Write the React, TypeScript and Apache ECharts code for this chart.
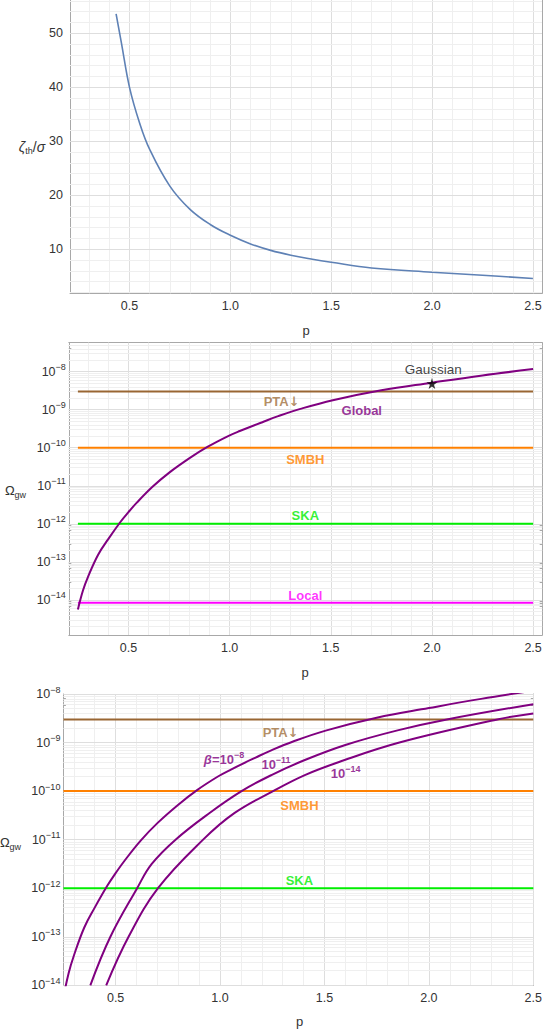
import { useEffect, useRef } from 'react';
import * as echarts from 'echarts';

// ---------------- Data: panel 1 (threshold) ----------------
const zetaP = [0.4335, 0.46, 0.5, 0.55, 0.6, 0.7, 0.8, 0.9, 1.0, 1.1, 1.2, 1.3, 1.4, 1.5, 1.7, 2.0, 2.25, 2.5];
const zetaVal = [53.6, 48.2, 40.0, 33.4, 28.5, 21.7, 17.4, 14.6, 12.6, 11.0, 9.8, 8.9, 8.2, 7.6, 6.55, 5.76, 5.2, 4.6];

// ---------------- Data: panel 2 (Global, beta = 1e-8) ----------------
const globalP = [0.25, 0.275, 0.3, 0.35, 0.4, 0.46, 0.5, 0.54, 0.62, 0.7, 0.8, 0.89, 0.99, 1.05, 1.17, 1.24, 1.35, 1.51, 1.75, 2.0, 2.25, 2.5];
const globalOmega = [5.62e-15, 1.78e-14, 4.07e-14, 1.55e-13, 3.98e-13, 1.12e-12, 2.04e-12, 3.55e-12, 9.55e-12, 2.19e-11, 5.25e-11, 1.05e-10, 2.0e-10, 2.75e-10, 4.9e-10, 6.76e-10, 1.05e-9, 1.78e-9, 3.24e-9, 5.13e-9, 7.94e-9, 1.17e-8];

// ---------------- Data: panel 3 (other beta) ----------------
const beta11P = [0.379, 0.475, 0.603, 0.673, 0.787, 0.95, 1.103, 1.246, 1.406, 1.6, 1.85, 2.092, 2.5];
const beta11Omega = [1e-14, 1e-13, 1e-12, 3.16e-12, 1e-11, 3.55e-11, 1e-10, 2.14e-10, 4.37e-10, 8.91e-10, 1.78e-9, 3.02e-9, 6.17e-9];
const beta14P = [0.455, 0.562, 0.703, 0.919, 1.07, 1.254, 1.406, 1.57, 1.859, 2.333, 2.5];
const beta14Omega = [1e-14, 1e-13, 1e-12, 1e-11, 3.55e-11, 1e-10, 2.14e-10, 3.98e-10, 1e-9, 3.02e-9, 3.98e-9];

// Detection levels
const pSpan = [0.25, 2.5];
const ptaLevel = 3e-9;
const smbhLevel = 1e-10;
const skaLevel = 1e-12;
const localLevel = 8.5e-15;

// Gaussian point
const gaussianP = 2.0;
const gaussianOmega = 4.9e-9;

// Annotations panel 2
const midLabelText = ['{n|PTA}{ar|↓}', '{n|Global}', 'Gaussian', '{n|SMBH}', '{n|SKA}', '{n|Local}'];
const midLabelP = [1.257, 1.653, 2.006, 1.374, 1.374, 1.374];
const midLabelOmega = [1.62e-9, 9.55e-10, 1.11e-8, 4.79e-11, 1.62e-12, 1.35e-14];

// Annotations panel 3
const botLabelText = ['{n|PTA}{ar|↓}', '{bi|β}{n|=10}{sp|−8}', '{n|10}{sp|−11}', '{n|10}{sp|−14}', '{n|SMBH}', '{n|SKA}'];
const botLabelP = [1.29, 1.019, 1.268, 1.601, 1.38, 1.38];
const botLabelOmega = [1.58e-9, 4.57e-10, 3.55e-10, 2.29e-10, 5.01e-11, 1.41e-12];

// Ticks
const xMajor = [0.5, 1.0, 1.5, 2.0, 2.5];
const zetaMajor = [10, 20, 30, 40, 50];
const logMajorMid = [-14, -13, -12, -11, -10, -9, -8];

// ---------------- Styling ----------------
const FONT = '"Liberation Sans", Arial, sans-serif';
const FRAME = '#a8a8a8';
const GRID_MAJOR = '#dedede';
const GRID_MINOR = '#efefef';
const TXT = '#333333';
const PURPLE = '#800080';
const BROWN = '#996633';
const ORANGE = '#ff8000';
const GREEN = '#00ee00';
const MAGENTA = '#ff00ff';

function steps(a: number, b: number, s: number): number[] {
  const out: number[] = [];
  for (let i = 0; a + i * s <= b + 1e-9; i++) out.push(+(a + i * s).toFixed(6));
  return out;
}
function notIn(arr: number[], ex: number[]) {
  return arr.filter((v) => !ex.some((e) => Math.abs(e - v) < 1e-6));
}
function logMinors(min: number, max: number) {
  const out: number[] = [];
  for (let n = -16; n <= -7; n++) {
    for (let k = 2; k <= 9; k++) {
      const v = n + Math.log10(k);
      if (v > min && v < max) out.push(v);
    }
  }
  return out;
}
const lg = (a: number[]) => a.map((v) => Math.log10(v));
const pairs = (xs: number[], ys: number[]) => xs.map((x, i) => [x, ys[i]]);

const supRich = {
  bb: { fontSize: 12.5, lineHeight: 18, fontFamily: FONT, color: TXT },
  sp: { fontSize: 9, lineHeight: 9, fontFamily: FONT, color: TXT, verticalAlign: 'top' },
};

function axes(dim: 'x' | 'y', gridIndex: number, min: number, max: number, majors: number[], minors: number[], label: any, showOpp: boolean) {
  const posA = dim === 'x' ? 'bottom' : 'left';
  const posB = dim === 'x' ? 'top' : 'right';
  const mk = (position: string, showLine: boolean, ticks: number[], len: number, lab: any, show = true) => ({
    type: 'value',
    gridIndex,
    min,
    max,
    position,
    show,
    axisLine: { show: showLine, onZero: false, lineStyle: { color: FRAME, width: 1 } },
    axisTick: { show: ticks.length > 0, inside: true, length: len, customValues: ticks, lineStyle: { color: FRAME, width: 1 } },
    axisLabel: lab ? { show: true, customValues: majors, color: TXT, fontSize: 12.5, fontFamily: FONT, ...lab } : { show: false },
    splitLine: { show: false },
    minorTick: { show: false },
    minorSplitLine: { show: false },
  });
  return [
    mk(posA, true, majors, 5, label),
    mk(posA, false, minors, 2.5, null),
    mk(posB, true, majors, 5, null, showOpp),
    mk(posB, false, minors, 2.5, null, showOpp),
  ];
}

function gridSeries(xi: number, yi: number, vx: number[], vxMajor: number[], vy: number[], vyMajor: number[]) {
  const line = (key: string, v: number, major: boolean) => ({
    [key]: v,
    lineStyle: { color: major ? GRID_MAJOR : GRID_MINOR, type: 'solid', width: 1 },
  });
  return {
    type: 'line',
    xAxisIndex: xi,
    yAxisIndex: yi,
    data: [],
    silent: true,
    markLine: {
      silent: true,
      z: 1,
      symbol: ['none', 'none'],
      label: { show: false },
      emphasis: { disabled: true },
      lineStyle: { type: 'solid', width: 1, color: GRID_MINOR },
      data: [
        ...vx.map((v) => line('xAxis', v, false)),
        ...vxMajor.map((v) => line('xAxis', v, true)),
        ...vy.map((v) => line('yAxis', v, false)),
        ...vyMajor.map((v) => line('yAxis', v, true)),
      ],
    },
  };
}

function levelSeries(xi: number, yi: number, level: number, color: string) {
  return {
    type: 'line',
    xAxisIndex: xi,
    yAxisIndex: yi,
    data: pSpan.map((p) => [p, Math.log10(level)]),
    symbol: 'none',
    silent: true,
    z: 3,
    lineStyle: { color, width: 2 },
  };
}

function curveSeries(xi: number, yi: number, xs: number[], ys: number[], color: string, width: number) {
  return {
    type: 'line',
    xAxisIndex: xi,
    yAxisIndex: yi,
    data: pairs(xs, ys),
    symbol: 'none',
    smooth: 0.4,
    silent: true,
    z: 4,
    lineStyle: { color, width },
  };
}

const annRich = {
  bi: { fontStyle: 'italic', fontWeight: 'bold', fontSize: 13, lineHeight: 18, fontFamily: FONT },
  n: { fontWeight: 'bold', fontSize: 13, lineHeight: 18, fontFamily: FONT },
  ar: { fontWeight: 'bold', fontSize: 13, lineHeight: 18, fontFamily: '"DejaVu Sans", sans-serif' },
  sp: { fontWeight: 'bold', fontSize: 9, lineHeight: 9, fontFamily: FONT, verticalAlign: 'top' },
};

function annSeries(xi: number, yi: number, texts: string[], ps: number[], oms: number[], colors: string[], weights: string[]) {
  return {
    type: 'scatter',
    xAxisIndex: xi,
    yAxisIndex: yi,
    silent: true,
    z: 6,
    symbolSize: 1,
    itemStyle: { color: 'rgba(0,0,0,0)' },
    data: texts.map((t, i) => ({
      value: [ps[i], Math.log10(oms[i])],
      label: {
        show: true,
        position: 'inside',
        formatter: () => t,
        color: colors[i],
        fontWeight: weights[i],
        fontSize: 13.5,
        fontFamily: FONT,
        rich: Object.fromEntries(Object.entries(annRich).map(([k, v]) => [k, { ...v, color: colors[i] }])),
      },
    })),
  };
}

const logLabel = {
  margin: 3,
  formatter: (v: number) => `{bb|10}{sp|−${Math.round(Math.abs(v))}}`,
  rich: supRich,
};

export default function App() {
  const ref = useRef<HTMLDivElement>(null);
  useEffect(() => {
    if (!ref.current) return;
    const chart = echarts.init(ref.current, undefined, { renderer: 'svg' });

    // panel ranges
    const x0 = [0.205, 2.545];
    const y0 = [1.85, 56.17];
    const x1 = [0.205, 2.545];
    const y1 = [-14.92, -7.24];
    const x2 = [0.25, 2.5];
    const y2 = [-14, -8];

    const xMinor01 = notIn(steps(0.3, 2.5, 0.1), xMajor);
    const xMinor2 = notIn(steps(0.3, 2.4, 0.1), xMajor);
    const zetaMinor = notIn(steps(2, 56, 2), zetaMajor);
    const logMinor1 = logMinors(y1[0], y1[1]);
    const logMinor2 = logMinors(y2[0], y2[1]);
    const logMajor2 = logMajorMid.filter((v) => v >= y2[0] && v <= y2[1]);

    const xLab = { margin: 6, formatter: (v: number) => v.toFixed(1) };

    const option: any = {
      animation: false,
      backgroundColor: '#ffffff',
      grid: [
        { left: 70, top: 0, width: 472, height: 293.3 },
        { left: 68.8, top: 342.7, width: 473.4, height: 292.3 },
        { left: 63.4, top: 694, width: 470.1, height: 291.3 },
      ],
      xAxis: [
        ...axes('x', 0, x0[0], x0[1], xMajor, xMinor01, xLab, false),
        ...axes('x', 1, x1[0], x1[1], xMajor, xMinor01, xLab, true),
        ...axes('x', 2, x2[0], x2[1], xMajor, xMinor2, xLab, true),
      ],
      yAxis: [
        ...axes('y', 0, y0[0], y0[1], zetaMajor, zetaMinor, { margin: 7, formatter: (v: number) => String(v) }, true),
        ...axes('y', 1, y1[0], y1[1], logMajorMid, logMinor1, logLabel, true),
        ...axes('y', 2, y2[0], y2[1], logMajor2, logMinor2, logLabel, true),
      ],
      series: [
        // panel 1
        gridSeries(0, 0, xMinor01, xMajor, zetaMinor, zetaMajor),
        curveSeries(0, 0, zetaP, zetaVal, '#5e81b5', 1.6),
        // panel 2
        gridSeries(4, 4, xMinor01, xMajor, logMinor1, logMajorMid),
        levelSeries(4, 4, ptaLevel, BROWN),
        levelSeries(4, 4, smbhLevel, ORANGE),
        levelSeries(4, 4, skaLevel, GREEN),
        levelSeries(4, 4, localLevel, MAGENTA),
        curveSeries(4, 4, globalP, lg(globalOmega), PURPLE, 2),
        {
          type: 'scatter',
          xAxisIndex: 4,
          yAxisIndex: 4,
          silent: true,
          z: 7,
          symbol: 'path://M50,0 L61,35 L98,35 L68,57 L79,91 L50,70 L21,91 L32,57 L2,35 L39,35 Z',
          symbolSize: 11,
          itemStyle: { color: '#000' },
          data: [[gaussianP, Math.log10(gaussianOmega)]],
        },
        annSeries(4, 4, midLabelText, midLabelP, midLabelOmega,
          ['#a0703c', PURPLE, '#111', ORANGE, GREEN, MAGENTA],
          ['bold', 'bold', 'normal', 'bold', 'bold', 'bold']),
        // panel 3
        gridSeries(8, 8, xMinor2, xMajor, logMinor2, logMajor2),
        levelSeries(8, 8, ptaLevel, BROWN),
        levelSeries(8, 8, smbhLevel, ORANGE),
        levelSeries(8, 8, skaLevel, GREEN),
        curveSeries(8, 8, globalP, lg(globalOmega), PURPLE, 2),
        curveSeries(8, 8, beta11P, lg(beta11Omega), PURPLE, 2),
        curveSeries(8, 8, beta14P, lg(beta14Omega), PURPLE, 2),
        annSeries(8, 8, botLabelText, botLabelP, botLabelOmega,
          ['#a0703c', PURPLE, PURPLE, PURPLE, ORANGE, GREEN],
          ['bold', 'bold', 'bold', 'bold', 'bold', 'bold']),
      ],
      graphic: [
        { type: 'text', x: 306, y: 330, style: { text: 'p', fontSize: 13, fontFamily: FONT, fill: TXT, align: 'center', verticalAlign: 'middle' } },
        { type: 'text', x: 305, y: 672.7, style: { text: 'p', fontSize: 13, fontFamily: FONT, fill: TXT, align: 'center', verticalAlign: 'middle' } },
        { type: 'text', x: 299.6, y: 1021.7, style: { text: 'p', fontSize: 13, fontFamily: FONT, fill: TXT, align: 'center', verticalAlign: 'middle' } },
        {
          type: 'text', x: 32, y: 146.7,
          style: {
            text: '{i|ζ}{s|th}{n|/}{i|σ}', align: 'center', verticalAlign: 'middle', fill: TXT,
            rich: {
              i: { fontStyle: 'italic', fontSize: 14, lineHeight: 18, fontFamily: FONT, fill: TXT },
              s: { fontSize: 9, lineHeight: 9, fontFamily: FONT, verticalAlign: 'bottom', fill: TXT },
              n: { fontSize: 14, lineHeight: 18, fontFamily: FONT, fill: TXT },
            },
          },
        },
        {
          type: 'text', x: 15.5, y: 490,
          style: {
            text: '{o|Ω}{s|gw}', align: 'center', verticalAlign: 'middle', fill: TXT,
            rich: {
              o: { fontSize: 13, lineHeight: 18, fontFamily: FONT, fill: TXT },
              s: { fontSize: 9, lineHeight: 9, fontFamily: FONT, verticalAlign: 'bottom', fill: TXT },
            },
          },
        },
        {
          type: 'text', x: 10.5, y: 842.7,
          style: {
            text: '{o|Ω}{s|gw}', align: 'center', verticalAlign: 'middle', fill: TXT,
            rich: {
              o: { fontSize: 13, lineHeight: 18, fontFamily: FONT, fill: TXT },
              s: { fontSize: 9, lineHeight: 9, fontFamily: FONT, verticalAlign: 'bottom', fill: TXT },
            },
          },
        },
      ],
    };
    chart.setOption(option);
    return () => chart.dispose();
  }, []);
  return <div ref={ref} style={{ position: 'absolute', left: 0, top: 0, width: 545, height: 1029, background: '#fff' }} />;
}
